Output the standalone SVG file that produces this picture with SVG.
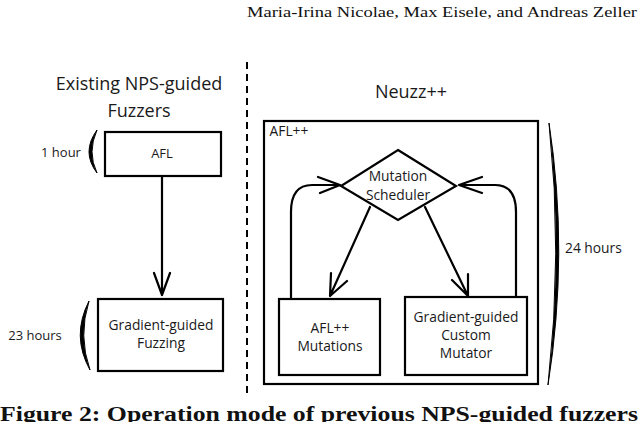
<svg xmlns="http://www.w3.org/2000/svg" width="640" height="422" viewBox="0 0 640 422">
<defs>
<style>
.box{fill:none;stroke:#000;stroke-width:2.2}
.ln{fill:none;stroke:#000;stroke-width:2.2;stroke-linecap:round;stroke-linejoin:round}
.t{font-family:"Open Sans","Noto Sans",sans-serif;font-size:13.8px;fill:#1a1a1a;text-anchor:middle}
.s{font-size:13px}
.big{font-size:18px}
.br{fill:#000;stroke:#000;stroke-width:1}
</style>
</defs>
<rect width="640" height="422" fill="#fff"/>
<text x="247" y="17" font-family="Liberation Serif,serif" font-size="15.5" textLength="390" lengthAdjust="spacingAndGlyphs" fill="#111">Maria-Irina Nicolae, Max Eisele, and Andreas Zeller</text>
<text x="0" y="421" font-family="Liberation Serif,serif" font-weight="bold" font-size="20" textLength="638" lengthAdjust="spacingAndGlyphs" fill="#111">Figure 2: Operation mode of previous NPS-guided fuzzers</text>

<g id="divider"><line x1="247" y1="62" x2="247" y2="393" stroke="#000" stroke-width="2" stroke-dasharray="7 5"/></g>

<g id="title-left"><text class="t big" x="139" y="90">Existing NPS-guided</text><text class="t big" x="139" y="117">Fuzzers</text></g>
<g id="title-right"><text class="t big" x="411" y="98">Neuzz++</text></g>

<g id="afl"><rect class="box" x="105" y="132" width="116" height="44"/><text class="t s" x="162" y="158">AFL</text></g>
<g id="grad-fuzz"><rect class="box" x="98" y="299" width="125" height="72"/><text class="t" x="161" y="330">Gradient-guided</text><text class="t" x="161" y="348">Fuzzing</text></g>
<g id="time-1h"><text class="t s" x="61" y="157">1 hour</text><path class="br" d="M97,130 Q81,152 97,173 Q87,152 97,130 Z"/></g>
<g id="time-23h"><text class="t s" x="35" y="340">23 hours</text><path class="br" d="M89,301 Q71,336 90,370 Q78,336 89,301 Z"/></g>

<g id="aflpp"><rect class="box" x="264" y="121" width="274" height="263"/><text class="t" x="289" y="136">AFL++</text></g>
<g id="scheduler"><polygon class="box" points="398,150 456,186 398,220 341,186"/><text class="t" x="398" y="181">Mutation</text><text class="t" x="398" y="200">Scheduler</text></g>
<g id="aflpp-mut"><rect class="box" x="279" y="299" width="101" height="76"/><text class="t" x="330" y="333">AFL++</text><text class="t" x="330" y="351">Mutations</text></g>
<g id="grad-mut"><rect class="box" x="405" y="297" width="122" height="78"/><text class="t" x="466" y="322">Gradient-guided</text><text class="t" x="466" y="340">Custom</text><text class="t" x="466" y="358">Mutator</text></g>
<g id="time-24h"><text class="t" x="565" y="253" style="text-anchor:start">24 hours</text><path class="br" d="M549,123 Q569,253 548,385 Q563,253 549,123 Z"/></g>

<g id="connectors">
<path class="ln" d="M162,177 V295 M154,273 L162,295 L170,273"/>
<path class="ln" d="M370,207 L330,296 M331,273 L330,296 L347,281"/>
<path class="ln" d="M425,207 L468,296 M452,280 L468,296 L468,274"/>
<path class="ln" d="M291,298 V212 Q291,185 312,185 H340 M318,177 L340,185 L320,193"/>
<path class="ln" d="M516,297 V212 Q516,185 495,185 H459 M482,177 L459,185 L482,193"/>
</g>
</svg>
